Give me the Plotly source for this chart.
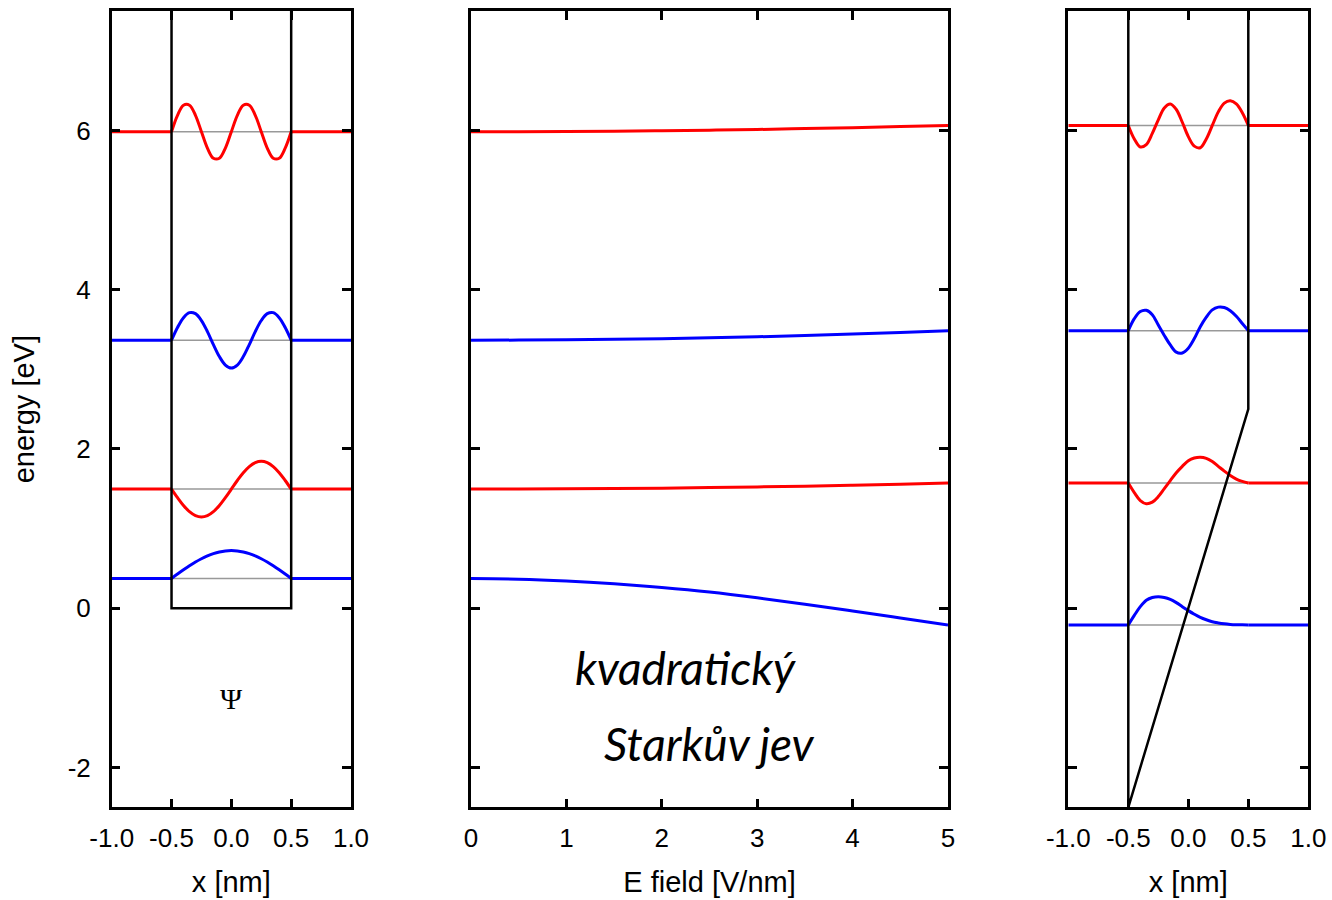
import plotly.graph_objects as go

# ---------------- data ----------------
# x samples inside the well [nm]
x_well = [-0.5, -0.45, -0.4, -0.35, -0.3, -0.25, -0.2, -0.15, -0.1, -0.05, 0.0,
          0.05, 0.1, 0.15, 0.2, 0.25, 0.3, 0.35, 0.4, 0.45, 0.5]

# left panel (no field): energy levels [eV] and wavefunctions (offsets, eV scale)
levels_left = [0.374, 1.496, 3.366, 5.984]
psi_left_1 = [0, .055, .108, .159, .206, .247, .283, .312, .333, .346, .35,
              .346, .333, .312, .283, .247, .206, .159, .108, .055, 0]
psi_left_2 = [0, -.108, -.206, -.283, -.333, -.35, -.333, -.283, -.206, -.108, 0,
              .108, .206, .283, .333, .35, .333, .283, .206, .108, 0]
psi_left_3 = [0, .159, .283, .346, .333, .247, .108, -.055, -.206, -.312, -.35,
              -.312, -.206, -.055, .108, .247, .333, .346, .283, .159, 0]
psi_left_4 = [0, .206, .333, .333, .206, 0, -.206, -.333, -.333, -.206, 0,
              .206, .333, .333, .206, 0, -.206, -.333, -.333, -.206, 0]

# right panel (F = 5 V/nm)
levels_right = [-0.21, 1.572, 3.486, 6.063]
psi_right_1 = [0, .12, .23, .31, .345, .355, .345, .32, .28, .23, .18,
               .135, .095, .065, .04, .025, .014, .007, .003, .001, 0]
psi_right_2 = [0, -.12, -.22, -.26, -.24, -.17, -.07, .03, .13, .21, .28,
               .315, .325, .31, .27, .21, .15, .095, .05, .02, 0]
psi_right_3 = [0, .15, .24, .255, .2, .07, -.06, -.18, -.27, -.28, -.22,
               -.1, .05, .17, .26, .295, .29, .25, .18, .09, 0]
psi_right_4 = [0, -.17, -.27, -.24, -.1, .07, .22, .27, .2, .04, -.14,
               -.26, -.28, -.17, 0.0, .17, .28, .31, .27, .16, 0]

# potential outlines
pot_x = [-0.5, -0.5, 0.5, 0.5]
pot_left = [7.5, 0.0, 0.0, 7.5]
pot_right = [7.5, -2.5, 2.5, 7.5]

# middle panel: energies vs field
field = [0, 0.5, 1, 1.5, 2, 2.5, 3, 3.5, 4, 4.5, 5]
E1 = [0.372, 0.364, 0.341, 0.306, 0.260, 0.203, 0.131, 0.050, -0.035, -0.122, -0.21]
E2 = [1.496, 1.497, 1.499, 1.503, 1.508, 1.515, 1.523, 1.533, 1.545, 1.558, 1.572]
E3 = [3.366, 3.367, 3.371, 3.377, 3.385, 3.396, 3.409, 3.425, 3.443, 3.463, 3.486]
E4 = [5.984, 5.985, 5.987, 5.991, 5.997, 6.004, 6.012, 6.023, 6.035, 6.048, 6.063]

colors = ["#0000ff", "#ff0000", "#0000ff", "#ff0000"]

x_ticks = [-1.0, -0.5, 0.0, 0.5, 1.0]
x_ticktext = ["-1.0", "-0.5", "0.0", "0.5", "1.0"]
y_ticks = [-2, 0, 2, 4, 6]
y_ticktext = ["-2", "0", "2", "4", "6"]
f_ticks = [0, 1, 2, 3, 4, 5]
f_ticktext = ["0", "1", "2", "3", "4", "5"]

# ---------------- figure ----------------
W, H = 1332, 900
fig = go.Figure()

def add_panel(xa, ya, levels, psis, pot):
    for lev in levels:
        fig.add_trace(go.Scatter(x=[x_well[0], x_well[-1]], y=[lev, lev], mode="lines",
                                 line=dict(color="#999999", width=1.5),
                                 xaxis=xa, yaxis=ya, hoverinfo="skip"))
    for lev, psi, c in zip(levels, psis, colors):
        fig.add_trace(go.Scatter(x=[-1.0, x_well[0]], y=[lev, lev], mode="lines",
                                 line=dict(color=c, width=3), xaxis=xa, yaxis=ya))
        fig.add_trace(go.Scatter(x=[x_well[-1], 1.0], y=[lev, lev], mode="lines",
                                 line=dict(color=c, width=3), xaxis=xa, yaxis=ya))
        fig.add_trace(go.Scatter(x=x_well, y=[lev + p for p in psi], mode="lines",
                                 line=dict(color=c, width=3, shape="spline", smoothing=1.0),
                                 xaxis=xa, yaxis=ya))
    fig.add_trace(go.Scatter(x=pot_x, y=pot, mode="lines",
                             line=dict(color="black", width=2.5),
                             xaxis=xa, yaxis=ya, hoverinfo="skip"))

add_panel("x", "y", levels_left, [psi_left_1, psi_left_2, psi_left_3, psi_left_4], pot_left)
add_panel("x3", "y3", levels_right, [psi_right_1, psi_right_2, psi_right_3, psi_right_4], pot_right)

for e, c in zip([E1, E2, E3, E4], colors):
    fig.add_trace(go.Scatter(x=field, y=e, mode="lines",
                             line=dict(color=c, width=3, shape="spline"),
                             xaxis="x2", yaxis="y2"))

def xd(a, b):
    return [a / W, b / W]

ydom = [1 - 807.3 / H, 1 - 11 / H]
tfont = dict(family="Liberation Sans, Arial, sans-serif", size=26, color="black")
afont = dict(family="Liberation Sans, Arial, sans-serif", size=29, color="black")

common = dict(showline=True, linewidth=2.5, linecolor="black", mirror="ticks",
              ticks="inside", ticklen=9, tickwidth=2.5, tickcolor="black",
              showgrid=False, zeroline=False, tickfont=tfont, automargin=False)

fig.update_layout(
    width=W, height=H, margin=dict(l=0, r=0, t=0, b=0, autoexpand=False),
    paper_bgcolor="white", plot_bgcolor="white", showlegend=False,
    font=tfont,
    xaxis=dict(domain=xd(111.7, 351), range=[-1, 1], tickvals=x_ticks, ticktext=x_ticktext,
               ticklabelstandoff=6,
               title=dict(text="x [nm]", font=afont, standoff=20), anchor="y", **common),
    yaxis=dict(domain=ydom, range=[-2.5, 7.5], tickvals=y_ticks, ticktext=y_ticktext,
               ticklabelstandoff=13,
               title=dict(text="energy [eV]", font=afont, standoff=25), anchor="x", **common),
    xaxis2=dict(domain=xd(471, 948), range=[0, 5], tickvals=f_ticks, ticktext=f_ticktext,
                ticklabelstandoff=6,
                title=dict(text="E field [V/nm]", font=afont, standoff=20), anchor="y2", **common),
    yaxis2=dict(domain=ydom, range=[-2.5, 7.5], tickvals=y_ticks, showticklabels=False,
                anchor="x2", **common),
    xaxis3=dict(domain=xd(1068.3, 1308.3), range=[-1, 1], tickvals=x_ticks, ticktext=x_ticktext,
                ticklabelstandoff=6,
                title=dict(text="x [nm]", font=afont, standoff=20), anchor="y3", **common),
    yaxis3=dict(domain=ydom, range=[-2.5, 7.5], tickvals=y_ticks, showticklabels=False,
                anchor="x3", **common),
)

fig.add_annotation(x=0, y=-1.13, xref="x", yref="y", text="Ψ", showarrow=False,
                   font=dict(family="Liberation Serif, Times New Roman, serif", size=30, color="black"))
hand = dict(family="Lato, Noto Sans, sans-serif", size=46, color="black")
fig.add_annotation(x=2.25, y=-0.74, xref="x2", yref="y2", text="<i>kvadratický</i>",
                   showarrow=False, font=hand)
fig.add_annotation(x=2.5, y=-1.70, xref="x2", yref="y2", text="<i>Starkův jev</i>",
                   showarrow=False, font=hand)

page_js = ("document.documentElement.style.overflow='hidden';"
           "document.body.style.margin='0';document.body.style.overflow='hidden';")
fig.write_html("out.html", post_script=page_js, config={"displayModeBar": False})
